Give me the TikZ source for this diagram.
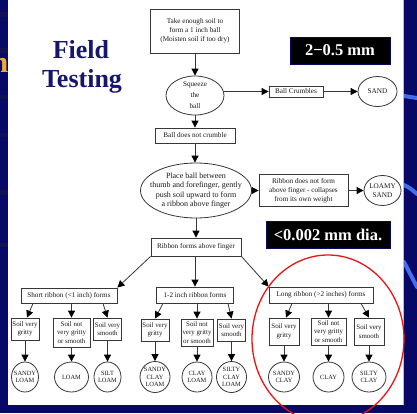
\documentclass[tikz,border=0pt]{standalone}
\usepackage{fontspec}
\setmainfont{Liberation Serif}
\usetikzlibrary{arrows.meta,shapes.geometric,calc}
\definecolor{navybg}{RGB}{8,8,102}
\definecolor{navyband}{RGB}{18,18,82}
\definecolor{streakblue}{RGB}{70,110,235}
\definecolor{titleblue}{RGB}{22,22,110}
\definecolor{lineg}{RGB}{55,55,55}
\definecolor{txtg}{RGB}{25,25,25}
\definecolor{orangeT}{RGB}{240,170,50}
\definecolor{pinkedge}{RGB}{235,170,170}
\definecolor{redring}{RGB}{235,20,20}
\tikzset{
  bx/.style={rectangle, draw=lineg, line width=0.8pt, fill=white, text=txtg, align=center,
    inner xsep=1.5pt, inner ysep=1pt, font=\fontsize{7.2}{9}\selectfont},
  rowbx/.style={bx, font=\fontsize{6.9}{8.5}\selectfont},
  el/.style={ellipse, draw=lineg, line width=0.8pt, fill=white, text=txtg, align=center,
    inner sep=-3pt, font=\fontsize{7.2}{9}\selectfont},
  leaf/.style={el, font=\fontsize{6.4}{7.8}\selectfont, minimum height=30pt},
  arr/.style={draw=lineg, line width=0.8pt, -{Triangle[length=7pt,width=7pt,color=black]}},
  blk/.style={rectangle, fill=black, draw=navybg, line width=0.6pt, text=white,
    font=\bfseries\fontsize{16.5}{18}\selectfont, inner sep=0pt},
  streak/.style={streakblue, line width=4pt, line cap=round}
}
\begin{document}
\begin{tikzpicture}[x=1pt,y=-1pt]
\useasboundingbox (0,0) rectangle (417,413);
% background
\fill[navybg] (0,0) rectangle (417,413);
\foreach \ya/\yb in {12/17,48/53,95/99,133/137,190/195,243/247}
  \fill[navyband] (0,\ya) rectangle (8,\yb);
\draw[streak] (404,96) -- (417,98);
\draw[streak] (404,185) .. controls (410,188) .. (417,194);
\draw[streak] (404,262) -- (417,287);
\node[anchor=base east, text=orangeT, font=\bfseries\fontsize{30}{30}\selectfont, inner sep=0pt] (edgen) at (8.5,72) {n};
\fill[white] (8,0) rectangle (404,405);
\draw[pinkedge, line width=0.8pt] (403.6,0) -- (403.6,405);

% title
\node[anchor=base, text=titleblue, font=\bfseries\fontsize{26}{30}\selectfont, inner sep=0pt] (title1) at (81,58) {Field};
\node[anchor=base, text=titleblue, font=\bfseries\fontsize{26}{30}\selectfont, inner sep=0pt] (title2) at (82,87) {Testing};

% black labels
\node[blk, minimum width=100pt, minimum height=27pt] (bb1) at (340,50.5) {2−0.5 mm};
\node[blk, minimum width=124pt, minimum height=27pt] (bb2) at (328,234.5) {<0.002 mm dia.};

% top chain
\node[bx, minimum width=89pt, minimum height=44pt] (take) at (195,31) {Take enough soil to\\form a 1 inch ball\\(Moisten soil if too dry)};
\node[el, minimum width=58pt, minimum height=39pt, font=\fontsize{7.2}{11}\selectfont] (squeeze) at (195,95.5) {Squeeze\\the\\ball};
\node[bx, minimum width=54pt, minimum height=11pt] (crumb) at (296,91.5) {Ball Crumbles};
\node[el, minimum width=39pt, minimum height=30pt] (sand) at (377.5,91.5) {SAND};
\node[bx, minimum width=80pt, minimum height=15pt] (nocrumb) at (195,135.5) {Ball does not crumble};
\node[el, minimum width=111pt, minimum height=55pt, inner xsep=-13pt, font=\fontsize{8}{9.5}\selectfont] (place) at (196,190.5) {Place ball between\\thumb and forefinger, gently\\push soil upward to form\\a ribbon above finger};
\node[bx, minimum width=89pt, minimum height=32pt] (noribbon) at (303.5,190.5) {Ribbon does not form\\above finger - collapses\\from its own weight};
\node[el, minimum width=37pt, minimum height=30pt] (lsand) at (382.5,190.5) {LOAMY\\SAND};
\node[bx, minimum width=90pt, minimum height=18pt] (ribbon) at (196,247) {Ribbon forms above finger};

% ribbon length boxes
\node[bx, minimum width=96pt, minimum height=15pt] (short) at (69,295.5) {Short ribbon (<1 inch) forms};
\node[bx, minimum width=77pt, minimum height=16pt] (mid) at (195,295) {1-2 inch ribbon forms};
\node[bx, minimum width=104pt, minimum height=16pt] (long) at (321,295) {Long ribbon (>2 inches) forms};

% second row
\node[rowbx, minimum width=27pt, minimum height=22pt] (sa) at (25,329) {Soil very\\gritty};
\node[rowbx, minimum width=37pt, minimum height=29pt] (sb) at (71.5,332.5) {Soil not\\very gritty\\or smooth};
\node[rowbx, minimum width=26pt, minimum height=22pt] (sc) at (107.5,329) {Soil very\\smooth};
\node[rowbx, minimum width=28pt, minimum height=22pt] (ma) at (155,330) {Soil very\\gritty};
\node[rowbx, minimum width=30pt, minimum height=27pt] (mb) at (197,332.5) {Soil not\\very gritty\\or smooth};
\node[rowbx, minimum width=27pt, minimum height=22pt] (mc) at (231.5,330) {Soil very\\smooth};
\node[rowbx, minimum width=30pt, minimum height=27pt] (la) at (284,331.5) {Soil very\\gritty};
\node[rowbx, minimum width=35pt, minimum height=27pt] (lb) at (328.5,331.5) {Soil not\\very gritty\\or smooth};
\node[rowbx, minimum width=30pt, minimum height=27pt] (lc) at (369,331.5) {Soil very\\smooth};

% leaves
\node[leaf, minimum width=27pt] (pa) at (25,377) {SANDY\\LOAM};
\node[leaf, minimum width=34pt] (pb) at (71.5,377) {LOAM};
\node[leaf, minimum width=27pt] (pc) at (107.5,377) {SILT\\LOAM};
\node[leaf, minimum width=30pt, minimum height=31pt] (qa) at (155,377) {SANDY\\CLAY\\LOAM};
\node[leaf, minimum width=30pt] (qb) at (197,377) {CLAY\\LOAM};
\node[leaf, minimum width=30pt, minimum height=31pt] (qc) at (231.5,377) {SILTY\\CLAY\\LOAM};
\node[leaf, minimum width=31pt] (ra) at (284,377) {SANDY\\CLAY};
\node[leaf, minimum width=31pt] (rb) at (328.5,377) {CLAY};
\node[leaf, minimum width=34pt] (rc) at (369,377) {SILTY\\CLAY};

% connectors
\draw[arr] (take.south) -- (squeeze.north);
\draw[arr] (squeeze.east |- crumb.west) -- (crumb.west);
\draw[arr] (crumb.east) -- (sand.west);
\draw[arr] (squeeze.south) -- (nocrumb.north);
\draw[arr] (nocrumb.south) -- (nocrumb.south |- place.north);
\draw[arr] (place.east) -- (noribbon.west);
\draw[arr] (noribbon.east) -- (lsand.west);
\draw[arr] (place.south) -- (ribbon.north);
\draw[arr] (ribbon.south west) -- (short.north east);
\draw[arr] (mid.north |- ribbon.south) -- (mid.north);
\draw[arr] (ribbon.south east) -- (long.north west);

\draw[arr] ([xshift=-36pt]short.south) -- ([xshift=2pt]sa.north);
\draw[arr] (sb.north |- short.south) -- (sb.north);
\draw[arr] ([xshift=34pt]short.south) -- (sc.north);
\draw[arr] ([xshift=-32pt]mid.south) -- (ma.north);
\draw[arr] (mb.north |- mid.south) -- (mb.north);
\draw[arr] ([xshift=33pt]mid.south) -- (mc.north);
\draw[arr] ([xshift=-29pt]long.south) -- ([xshift=2pt]la.north);
\draw[arr] (lb.north |- long.south) -- (lb.north);
\draw[arr] ([xshift=40pt]long.south) -- (lc.north);

\foreach \u/\v in {sa/pa,sb/pb,sc/pc,ma/qa,mb/qb,mc/qc,la/ra,lb/rb,lc/rc}
  \draw[arr] (\u.south) -- (\v.north);

% highlight ring
\draw[redring, line width=1.3pt] (328,339) ellipse [x radius=76pt, y radius=84pt];
\end{tikzpicture}
\end{document}
